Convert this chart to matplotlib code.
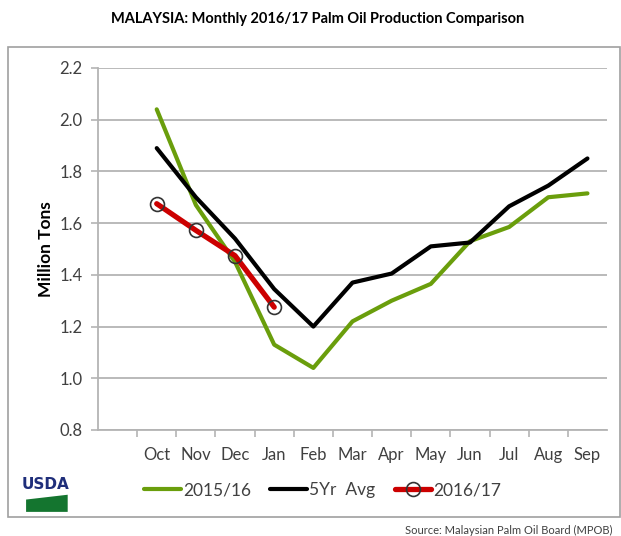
import numpy as np
import matplotlib.pyplot as plt
from matplotlib.patches import Rectangle, Polygon

plt.rcParams['font.family'] = ['Lato', 'DejaVu Sans']

months = ['', 'Oct', 'Nov', 'Dec', 'Jan', 'Feb', 'Mar', 'Apr', 'May', 'Jun', 'Jul', 'Aug', 'Sep']
prod_1516 = [2.04, 1.67, 1.45, 1.13, 1.04, 1.22, 1.30, 1.365, 1.53, 1.585, 1.70, 1.715]
avg_5yr = [1.89, 1.70, 1.54, 1.345, 1.20, 1.37, 1.405, 1.51, 1.525, 1.665, 1.745, 1.85]
prod_1617 = [1.675, 1.572, 1.474, 1.275]

grid_c = '#b4b4b4'
txt_c = '#404040'

fig = plt.figure(figsize=(6.21, 5.36), dpi=100)
ax = fig.add_axes([0.1578, 0.1978, 0.8197, 0.6754])

x_all = np.arange(len(months))
x1 = x_all[1:]
ax.plot(x1, prod_1516, color='#6a9e0c', lw=3, solid_capstyle='round', label='2015/16', zorder=3)
ax.plot(x1, avg_5yr, color='black', lw=3, solid_capstyle='round', label='5Yr  Avg', zorder=4)
ax.plot(x1[:len(prod_1617)], prod_1617, color='#cc0000', lw=3.8, solid_capstyle='round',
        marker='o', ms=10, mfc='none', mec='#333333', mew=1.2, label='2016/17', zorder=5)

ax.set_xlim(-0.5, 12.5)
ax.set_ylim(0.8, 2.2)
ax.set_yticks(np.arange(0.8, 2.21, 0.2))
ax.set_yticklabels(['%.1f' % v for v in np.arange(0.8, 2.21, 0.2)])
ax.set_xticks(x_all)
ax.set_xticklabels(months)
ax.set_xticks(np.arange(0.5, 12.5, 1), minor=True)
ax.tick_params(axis='x', which='major', length=0, pad=12, labelsize=12, labelcolor=txt_c)
ax.tick_params(axis='x', which='minor', length=5, color=grid_c, width=1.2)
ax.tick_params(axis='y', length=5, color=grid_c, width=1.2, labelsize=12, labelcolor=txt_c, pad=6)
ax.yaxis.grid(True, color=grid_c, lw=1.3)
ax.set_axisbelow(True)
for s in ['top', 'right']:
    ax.spines[s].set_visible(False)
ax.spines['left'].set_color(grid_c)
ax.spines['left'].set_linewidth(1.3)
ax.spines['bottom'].set_color(grid_c)
ax.spines['bottom'].set_linewidth(1.3)
ax.set_ylabel('Million Tons', fontsize=12.5, fontweight='bold', labelpad=4)

fig.text(0.512, 0.965, 'MALAYSIA: Monthly 2016/17 Palm Oil Production Comparison',
         ha='center', va='center', fontsize=10.5, fontweight='bold')

# outer chart border
fig.patches.append(Rectangle((0.0129, 0.0354), 0.985, 0.877, transform=fig.transFigure,
                             fill=False, ec='#a0a0a0', lw=1.2))

leg = fig.legend(loc='center left', bbox_to_anchor=(0.207, 0.085), ncol=3, frameon=False,
                 fontsize=12.5, handlelength=2.1, handletextpad=0.15, columnspacing=1.1)
for t in leg.get_texts():
    t.set_color(txt_c)

# USDA logo
fig.text(0.0725, 0.097, 'USDA', ha='center', va='center', fontsize=11, fontweight='bold',
         color='#1f2e7a', family='Liberation Sans Narrow')
fig.patches.append(Polygon([(0.042, 0.045), (0.109, 0.045), (0.109, 0.077), (0.042, 0.068)],
                           closed=True, transform=fig.transFigure, fc='#14752f', ec='none'))

fig.text(0.987, 0.011, 'Source: Malaysian Palm Oil Board (MPOB)', ha='right', va='center',
         fontsize=8, color=txt_c)

fig.savefig('out.png', dpi=100)
